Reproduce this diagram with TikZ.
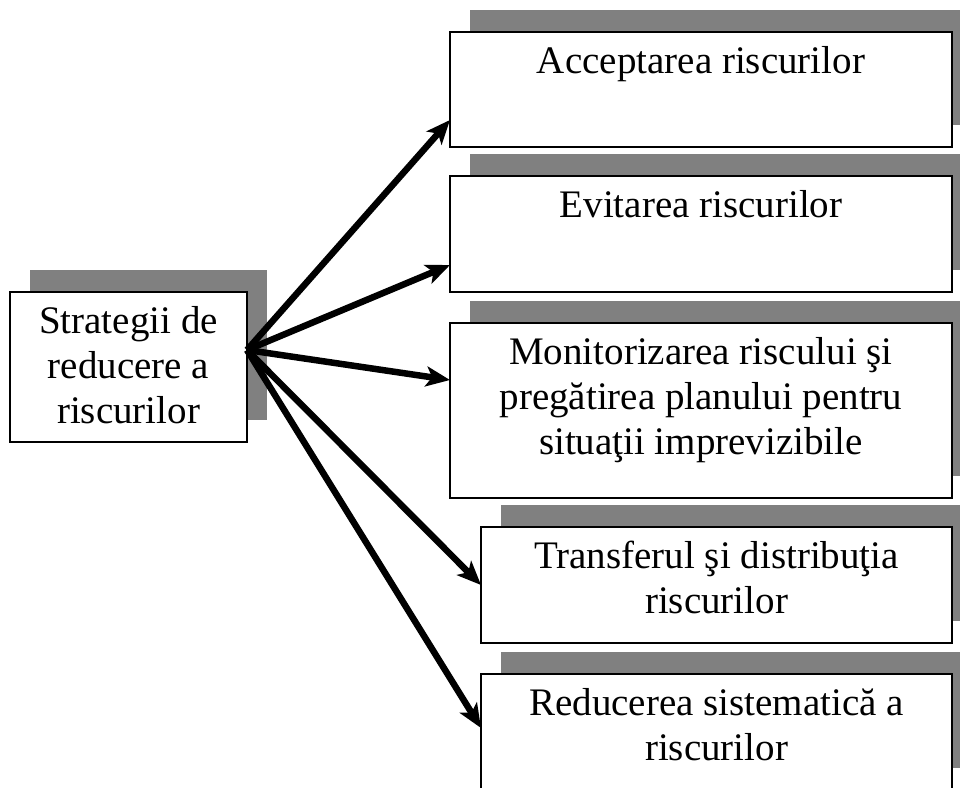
\documentclass[tikz,border=0pt]{standalone}
\usepackage{fontspec}
\setmainfont{Liberation Serif}
\usetikzlibrary{arrows.meta,shadows}
\definecolor{shadowgray}{HTML}{808080}
\begin{document}
\begin{tikzpicture}[x=1pt,y=-1pt,
  box/.style={draw=black, line width=1.6pt, fill=white, inner sep=0pt, outer sep=0pt,
    anchor=north west,
    general shadow={fill=shadowgray, shadow xshift=20pt, shadow yshift=22pt}},
  txt/.style={anchor=north, yshift=-9.5pt, inner sep=0pt, align=center,
    font=\fontsize{39}{45}\selectfont},
  arr/.style={line width=6.5pt, -{Stealth[length=24pt,width=20pt,inset=6pt]}}]
\clip (0,0) rectangle (960,787);
\useasboundingbox (0,0) rectangle (960,787);

% source box
\node[box, minimum width=237pt, minimum height=150pt,
  label={[txt]north:\strut Strategii de\\reducere a\\riscurilor}] (b0) at (10,292) {};

% strategy boxes
\node[box, minimum width=502pt, minimum height=115pt,
  label={[txt]north:\strut Acceptarea riscurilor}] (b1) at (450,32) {};
\node[box, minimum width=502pt, minimum height=116pt,
  label={[txt]north:\strut Evitarea riscurilor}] (b2) at (450,176) {};
\node[box, minimum width=502pt, minimum height=175pt,
  label={[txt]north:\strut Monitorizarea riscului şi\\pregătirea planului pentru\\situaţii imprevizibile}] (b3) at (450,323) {};
\node[box, minimum width=471pt, minimum height=116pt,
  label={[txt]north:\strut Transferul şi distribuţia\\riscurilor}] (b4) at (481,527) {};
\node[box, minimum width=471pt, minimum height=116pt,
  label={[txt]north:\strut Reducerea sistematică a\\riscurilor}] (b5) at (481,674) {};

% connectors fanning out from the source box
\coordinate (hub) at ([yshift=17pt]b0.east);
\draw[arr] (hub) -- ([yshift=27pt]b1.south west);
\draw[arr] (hub) -- ([yshift=27pt]b2.south west);
\draw[arr] (hub) -- ([yshift=-57pt]b3.north west);
\draw[arr] (hub) -- (b4.west);
\draw[arr] (hub) -- ([yshift=4pt]b5.west);
\end{tikzpicture}
\end{document}
